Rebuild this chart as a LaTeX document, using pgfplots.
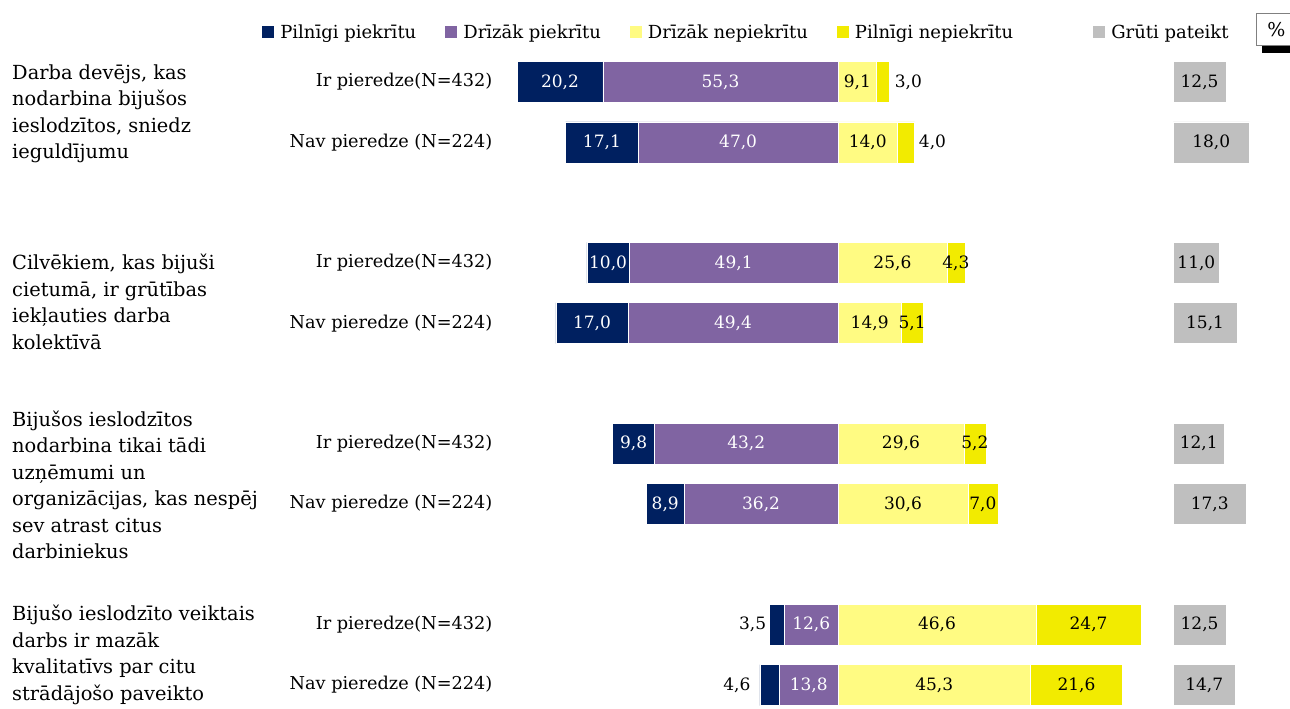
\documentclass[border=0pt]{standalone}
\usepackage{fontspec}
\setmainfont{DejaVu Serif}
\usepackage{pgfplots}
\usepackage{pgfplotstable}
\pgfplotsset{compat=1.18}

\definecolor{cnavy}{RGB}{0,32,96}
\definecolor{cpurple}{RGB}{128,100,162}
\definecolor{clyellow}{RGB}{255,251,130}
\definecolor{cyellow}{RGB}{242,235,0}
\definecolor{cgray}{RGB}{191,191,191}

% y = row (0,1 group 1; 3,4 group 2; ...), x = share in %,
% f = where the label sits in the bar (0.5 middle, 0 at the end), o = extra shift in pt,
% k = label blackness (0 white, 100 black)
\pgfplotstableread{
y  x      lab   f    o   k
0  -55.3  55,3  0.5  0   0
1  -47.0  47,0  0.5  0   0
3  -49.1  49,1  0.5  0   0
4  -49.4  49,4  0.5  0   0
6  -43.2  43,2  0.5  0   0
7  -36.2  36,2  0.5  0   0
9  -12.6  12,6  0.5  0   0
10 -13.8  13,8  0.5  0   0
}\tabDP
\pgfplotstableread{
y  x      lab   f    o   k
0  -20.2  20,2  0.5  0   0
1  -17.1  17,1  0.5  0   0
3  -10.0  10,0  0.5  0   0
4  -17.0  17,0  0.5  0   0
6  -9.8   9,8   0.5  0   0
7  -8.9   8,9   0.5  0   0
9  -3.5   3,5   0    -17 100
10 -4.6   4,6   0    -23 100
}\tabPP
\pgfplotstableread{
y  x     lab   f    o  k
0  9.1   9,1   0.5  0  100
1  14.0  14,0  0.5  0  100
3  25.6  25,6  0.5  0  100
4  14.9  14,9  0.5  0  100
6  29.6  29,6  0.5  0  100
7  30.6  30,6  0.5  0  100
9  46.6  46,6  0.5  0  100
10 45.3  45,3  0.5  0  100
}\tabDN
\pgfplotstableread{
y  x     lab   f    o   k
0  3.0   3,0   0    19  100
1  4.0   4,0   0    18  100
3  4.3   4,3   0.5  0   100
4  5.1   5,1   0.5  0   100
6  5.2   5,2   0.5  0   100
7  7.0   7,0   0.5  0   100
9  24.7  24,7  0.5  0   100
10 21.6  21,6  0.5  0   100
}\tabPN
\pgfplotstableread{
y  x     lab   f    o  k
0  12.5  12,5  0.5  0  100
1  18.0  18,0  0.5  0  100
3  11.0  11,0  0.5  0  100
4  15.1  15,1  0.5  0  100
6  12.1  12,1  0.5  0  100
7  17.3  17,3  0.5  0  100
9  12.5  12,5  0.5  0  100
10 14.7  14,7  0.5  0  100
}\tabGP

\pgfplotsset{
  base/.style={
    xbar stacked, bar width=41pt,
    x=4.25pt, y=60.3pt, y dir=reverse,
    anchor=origin, clip=false,
    ymin=-0.6, ymax=10.6,
  },
  % stacked nodes near coords already sit in the middle of their segment
  lbl/.style={
    forget plot, draw=white, line width=0.6pt,
    point meta=explicit symbolic,
    nodes near coords={\pgfplotspointmeta},
    visualization depends on={(0.5-\thisrow{f})*\thisrow{x} \as \lsh},
    visualization depends on={\thisrow{o} \as \lo},
    visualization depends on={\thisrow{k} \as \lk},
    every node near coord/.append style={
      anchor=center, inner sep=0pt, text=black!\lk!white,
      font=\fontsize{17}{17}\selectfont,
      shift={(axis direction cs:\lsh,0)},
      xshift=\lo pt},
  },
  sq/.style={fill=#1, draw=none,
    legend image code/.code={\fill[##1] (0pt,-6pt) rectangle (12pt,6pt);}},
  leg/.style={
    legend columns=-1, legend cell align=left,
    legend style={draw=none, fill=none, inner sep=0pt,
      font=\fontsize{18}{20}\selectfont,
      /tikz/every odd column/.append style={column sep=4pt},
      /tikz/every even column/.append style={column sep=27pt}},
  },
}

\begin{document}
\begin{tikzpicture}
\useasboundingbox (0pt,0pt) rectangle (1290pt,-709pt);

% agree side (negative)
\begin{axis}[base, at={(838pt,-82pt)}, xmin=-80.5, xmax=0,
  axis line style={draw=none}, tick style={draw=none}, xtick=\empty,
  ytick={0,1,3,4,6,7,9,10},
  yticklabels={{Ir pieredze(N=432)},{Nav pieredze (N=224)},
               {Ir pieredze(N=432)},{Nav pieredze (N=224)},
               {Ir pieredze(N=432)},{Nav pieredze (N=224)},
               {Ir pieredze(N=432)},{Nav pieredze (N=224)}},
  yticklabel style={font=\fontsize{17.7}{20}\selectfont},
  leg, legend style={at={(axis cs:-135.5,-0.83)}, anchor=west},
]
\addplot[fill=cpurple, lbl] table[x=x, y=y, meta=lab] {\tabDP};
\addplot[fill=cnavy, lbl] table[x=x, y=y, meta=lab] {\tabPP};
\addlegendimage{sq=cnavy}
\addlegendimage{sq=cpurple}
\addlegendimage{sq=clyellow}
\addlegendimage{sq=cyellow}
\legend{Pilnīgi piekrītu, Drīzāk piekrītu, Drīzāk nepiekrītu, Pilnīgi nepiekrītu}
\end{axis}

% disagree side (positive)
\begin{axis}[base, at={(838pt,-82pt)}, xmin=0, xmax=75, hide axis]
\addplot[fill=clyellow, lbl] table[x=x, y=y, meta=lab] {\tabDN};
\addplot[fill=cyellow, lbl] table[x=x, y=y, meta=lab] {\tabPN};
\end{axis}

% hard to say
\begin{axis}[base, at={(1173pt,-82pt)}, xmin=0, xmax=20, hide axis,
  leg, legend style={at={(axis cs:-18.8,-0.83)}, anchor=west}]
\addplot[fill=cgray, lbl] table[x=x, y=y, meta=lab] {\tabGP};
\addlegendimage{sq=cgray}
\legend{Grūti pateikt}
\end{axis}

\begin{scope}[every node/.style={anchor=west, align=left, inner sep=0pt,
    font=\fontsize{19.4}{26.5}\selectfont}]
\node at (12pt,-114pt) {Darba devējs, kas\\nodarbina bijušos\\ieslodzītos, sniedz\\ieguldījumu};
\node at (12pt,-302pt) {Cilvēkiem, kas bijuši\\cietumā, ir grūtības\\iekļauties darba\\kolektīvā};
\node at (12pt,-485pt) {Bijušos ieslodzītos\\nodarbina tikai tādi\\uzņēmumi un\\organizācijas, kas nespēj\\sev atrast citus\\darbiniekus};
\node at (12pt,-655pt) {Bijušo ieslodzīto veiktais\\darbs ir mazāk\\kvalitatīvs par citu\\strādājošo paveikto};
\end{scope}

\fill[black] (1262pt,-46pt) rectangle (1295pt,-53pt);
\node[draw=gray, fill=white, line width=0.8pt, anchor=north west,
  minimum width=40pt, minimum height=32pt, font=\fontsize{19}{20}\selectfont]
  at (1256pt,-13pt) {\%};
\end{tikzpicture}
\end{document}
